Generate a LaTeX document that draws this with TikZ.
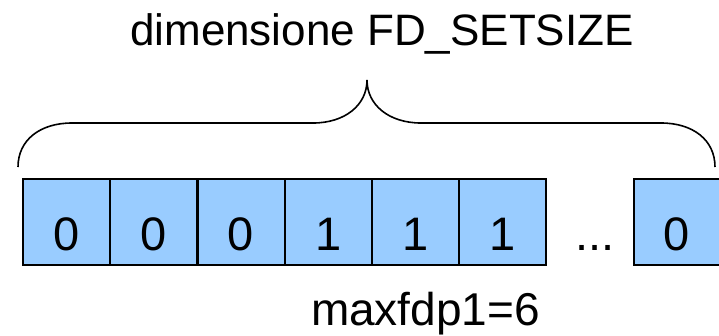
\documentclass[tikz,border=0pt]{standalone}
\usepackage{fontspec}
\setmainfont{Liberation Sans}
\begin{document}
\begin{tikzpicture}[x=1pt,y=-1pt,
  bit/.style={draw=black,line width=2pt,fill=cellblue,inner sep=0pt,
    minimum width=87pt,minimum height=86pt,text height=56pt,text depth=0pt,
    font=\fontsize{47}{51}\selectfont},
  label/.style={inner sep=0pt,anchor=base},
  bracepath/.style={draw=black,line width=1.6pt}]
\definecolor{cellblue}{HTML}{99CCFF}
\useasboundingbox (0,0) rectangle (719,335);
% title above the brace
\node[label,font=\fontsize{44}{48}\selectfont] (title) at (382,45) {dimensione FD\_SETSIZE};
% bit cells
\node[bit] (c1) at (66.6,222) {0};
\node[bit] (c2) at (153.8,222) {0};
\node[bit] (c3) at (241,222) {0};
\node[bit] (c4) at (328.2,222) {1};
\node[bit] (c5) at (415.4,222) {1};
\node[bit] (c6) at (502.6,222) {1};
\node[label,font=\fontsize{47}{51}\selectfont] (dots) at (595,250) {...};
\node[bit] (c7) at (677,222) {0};
% curly brace over the whole set
\coordinate (bl) at (18,167);
\coordinate (br) at (715,167);
\coordinate (tip) at (367,80);
\path[bracepath] (bl) .. controls (18,140) and (40,123) .. (72,123)
  -- (313,123) .. controls (345,123) and (367,105) .. (tip)
  .. controls (367,105) and (389,123) .. (421,123)
  -- (661,123) .. controls (693,123) and (715,140) .. (br);
% label below the cells
\node[label,font=\fontsize{46}{50}\selectfont] (size) at (425.5,325) {maxfdp1=6};
\end{tikzpicture}
\end{document}
